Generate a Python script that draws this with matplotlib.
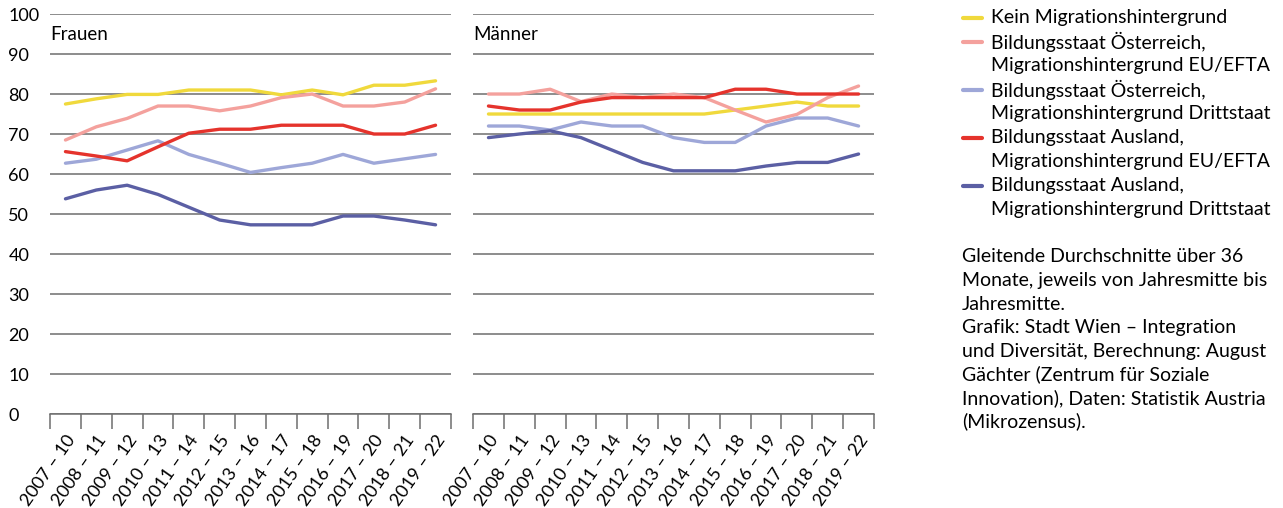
import matplotlib.pyplot as plt
from matplotlib.lines import Line2D
import matplotlib.transforms as mtrans
import numpy as np

plt.rcParams['font.family'] = ['Lato', 'DejaVu Sans']

zeitraum = ['2007 – 10', '2008 – 11', '2009 – 12', '2010 – 13', '2011 – 14', '2012 – 15', '2013 – 16',
            '2014 – 17', '2015 – 18', '2016 – 19', '2017 – 20', '2018 – 21', '2019 – 22']

serien = ['Kein Migrationshintergrund',
          'Bildungsstaat Österreich,\nMigrationshintergrund EU/EFTA',
          'Bildungsstaat Österreich,\nMigrationshintergrund Drittstaat',
          'Bildungsstaat Ausland,\nMigrationshintergrund EU/EFTA',
          'Bildungsstaat Ausland,\nMigrationshintergrund Drittstaat']
farben = ['#f0d93c', '#f4a19d', '#9ea7d8', '#e5332c', '#5b5fa4']

# Frauen
frauen_kein = [77.5, 78.8, 79.9, 79.9, 81, 81, 81, 79.8, 81, 79.8, 82.2, 82.2, 83.3]
frauen_oe_eu = [68.5, 71.8, 73.9, 77, 77, 75.8, 77, 79.1, 80, 77, 77, 78, 81.3]
frauen_oe_dritt = [62.7, 63.7, 66, 68.3, 64.9, 62.7, 60.4, 61.6, 62.7, 64.9, 62.7, 63.8, 64.9]
frauen_aus_eu = [65.6, 64.5, 63.3, 66.8, 70.2, 71.2, 71.2, 72.2, 72.2, 72.2, 70, 70, 72.2]
frauen_aus_dritt = [53.8, 56, 57.2, 54.9, 51.7, 48.5, 47.3, 47.3, 47.3, 49.5, 49.5, 48.5, 47.3]

# Männer
maenner_kein = [75, 75, 75, 75, 75, 75, 75, 75, 76, 77, 78, 77, 77]
maenner_oe_eu = [80, 80, 81.2, 78.1, 80, 79.1, 80, 79.1, 76, 73, 74.9, 79.1, 82]
maenner_oe_dritt = [72, 72, 71, 73, 72, 72, 69.1, 67.9, 67.9, 72, 74, 74, 72]
maenner_aus_eu = [77, 76, 76, 78, 79.1, 79.1, 79.1, 79.1, 81.2, 81.2, 80, 80, 80]
maenner_aus_dritt = [69.1, 70, 70.8, 69.1, 66, 62.9, 60.8, 60.8, 60.8, 62, 62.9, 62.9, 65]

frauen = [frauen_kein, frauen_oe_eu, frauen_oe_dritt, frauen_aus_eu, frauen_aus_dritt]
maenner = [maenner_kein, maenner_oe_eu, maenner_oe_dritt, maenner_aus_eu, maenner_aus_dritt]

fig = plt.figure(figsize=(12.83, 5.08), dpi=100)
ax1 = fig.add_axes([0.039, 0.185, 0.3125, 0.7874])
ax2 = fig.add_axes([0.3687, 0.185, 0.3125, 0.7874])

x = np.arange(len(zeitraum))
grau = '#6e6e6e'
verschiebung = mtrans.ScaledTranslation(6 / 100, 0, fig.dpi_scale_trans)

for ax, daten, titel in [(ax1, frauen, 'Frauen'), (ax2, maenner, 'Männer')]:
    for i in [0, 1, 2, 3, 4]:
        ax.plot(x, daten[i], color=farben[i], lw=2.4, solid_capstyle='round', zorder=3)
    ax.set_xlim(-0.5, len(zeitraum) - 0.5)
    ax.set_ylim(0, 100)
    ax.set_yticks(np.arange(0, 101, 10))
    ax.grid(axis='y', color=grau, lw=1.1)
    ax.set_axisbelow(True)
    for s in ['top', 'right', 'left']:
        ax.spines[s].set_visible(False)
    ax.spines['bottom'].set_color(grau)
    ax.spines['bottom'].set_linewidth(1.1)
    # Klassengrenzen als Ticks, Beschriftung in der Mitte
    ax.set_xticks(np.arange(-0.5, len(zeitraum)), minor=True)
    ax.set_xticks(x)
    ax.set_xticklabels(zeitraum, rotation=55, ha='right', va='top', rotation_mode='anchor', fontsize=13)
    for lab in ax.get_xticklabels():
        lab.set_transform(lab.get_transform() + verschiebung)
    ax.tick_params(axis='x', which='major', length=0, pad=13)
    ax.tick_params(axis='x', which='minor', length=11, width=1.1, color=grau)
    ax.tick_params(axis='y', length=0)
    ax.text(0, 95, titel, transform=ax.get_yaxis_transform(), fontsize=13.5, va='center', ha='left')

for lab in ax1.get_yticklabels():
    lab.set_horizontalalignment('left')
ax1.tick_params(axis='y', pad=30, labelsize=13)
ax2.set_yticklabels([])

# Legende
W, H = 1283, 508
zeile = 0
for name, farbe in zip(serien, farben):
    y = 1 - (18 + 24 * zeile) / H
    fig.add_artist(Line2D([963 / W, 982 / W], [y, y], color=farbe, lw=3, solid_capstyle='round'))
    for teil in name.split('\n'):
        fig.text(991 / W, 1 - (18 + 24 * zeile) / H, teil, fontsize=14, va='center', ha='left')
        zeile += 1

notiz = ['Gleitende Durchschnitte über 36',
         'Monate, jeweils von Jahresmitte bis',
         'Jahresmitte.',
         'Grafik: Stadt Wien – Integration',
         'und Diversität, Berechnung: August',
         'Gächter (Zentrum für Soziale',
         'Innovation), Daten: Statistik Austria',
         '(Mikrozensus).']
for k, t in enumerate(notiz):
    fig.text(962 / W, 1 - (257 + 23.5 * k) / H, t, fontsize=14, va='center', ha='left')

fig.savefig('out.png', dpi=100)
